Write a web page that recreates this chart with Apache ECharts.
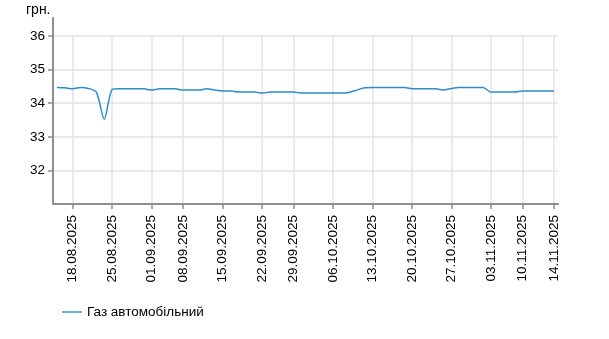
<!DOCTYPE html>
<html>
<head>
<meta charset="utf-8">
<script src="https://cdn.jsdelivr.net/npm/echarts@6/dist/echarts.min.js"></script>
<style>html,body{margin:0;padding:0;background:#fff}#c{width:609px;height:339px}</style>
</head>
<body>
<div id="c"></div>
<script>
const categories = [
  '14.08.2025','15.08.2025',
  '18.08.2025','19.08.2025','20.08.2025','21.08.2025','22.08.2025',
  '25.08.2025','26.08.2025','27.08.2025','28.08.2025','29.08.2025',
  '01.09.2025','02.09.2025','03.09.2025','04.09.2025',
  '08.09.2025','09.09.2025','10.09.2025','11.09.2025','12.09.2025',
  '15.09.2025','16.09.2025','17.09.2025','18.09.2025','19.09.2025',
  '22.09.2025','23.09.2025','24.09.2025','25.09.2025',
  '29.09.2025','30.09.2025','01.10.2025','02.10.2025','03.10.2025',
  '06.10.2025','07.10.2025','08.10.2025','09.10.2025','10.10.2025',
  '13.10.2025','14.10.2025','15.10.2025','16.10.2025','17.10.2025',
  '20.10.2025','21.10.2025','22.10.2025','23.10.2025','24.10.2025',
  '27.10.2025','28.10.2025','29.10.2025','30.10.2025','31.10.2025',
  '03.11.2025','04.11.2025','05.11.2025','06.11.2025',
  '10.11.2025','11.11.2025','12.11.2025','13.11.2025','14.11.2025'
];
const gasValues = [
  34.47,34.46,
  34.43,34.47,34.44,34.33,33.52,
  34.41,34.43,34.43,34.43,34.43,
  34.39,34.43,34.43,34.43,
  34.39,34.39,34.39,34.43,34.39,
  34.36,34.36,34.33,34.33,34.33,
  34.30,34.33,34.33,34.33,
  34.33,34.30,34.30,34.30,34.30,
  34.30,34.30,34.32,34.39,34.46,
  34.47,34.47,34.47,34.47,34.47,
  34.43,34.43,34.43,34.43,34.39,
  34.44,34.47,34.47,34.47,34.47,
  34.33,34.33,34.33,34.33,
  34.36,34.36,34.36,34.36,34.36
];
const tickLabels = [
  '18.08.2025','25.08.2025','01.09.2025','08.09.2025','15.09.2025','22.09.2025','29.09.2025',
  '06.10.2025','13.10.2025','20.10.2025','27.10.2025','03.11.2025','10.11.2025','14.11.2025'
];
const yTicks = [31, 32, 33, 34, 35, 36];
const seriesName = 'Газ автомобільний';
const unitName = 'грн.';

const FONT = 'Arial, "Liberation Sans", sans-serif';
const showTick = (idx, val) => tickLabels.indexOf(categories[idx]) >= 0;

const chart = echarts.init(document.getElementById('c'), null, {renderer: 'canvas'});
chart.setOption({
  animation: false,
  backgroundColor: '#fff',
  title: {
    text: unitName, left: 26, top: 3, padding: 0,
    textStyle: {fontFamily: FONT, fontSize: 14, fontWeight: 'normal', color: '#000'}
  },
  legend: {
    left: 57, top: 300,
    icon: 'rect', itemWidth: 20, itemHeight: 1.5, itemGap: 10,
    textStyle: {fontFamily: FONT, fontSize: 13.5, color: '#000'},
    data: [seriesName]
  },
  grid: [
    {left: 53, right: 51, top: 36, bottom: 135, containLabel: false},
    {left: 53, width: 1, top: 18, bottom: 135, containLabel: false}
  ],
  xAxis: [{
    type: 'category',
    data: categories,
    boundaryGap: true,
    axisLine: {show: true, lineStyle: {color: '#8f8f8f', width: 2}},
    axisTick: {show: true, interval: showTick, alignWithLabel: true, length: 5, lineStyle: {color: '#8f8f8f', width: 1.5}},
    axisLabel: {show: true, interval: showTick, rotate: 90, margin: 11, fontFamily: FONT, fontSize: 13.5, color: '#000'},
    splitLine: {show: true, interval: showTick, alignWithLabel: true, lineStyle: {color: '#e3e3e3', width: 1.5}}
  }, {
    type: 'category', gridIndex: 1, data: ['a'], show: false
  }],
  yAxis: [{
    type: 'value',
    min: yTicks[0], max: yTicks[yTicks.length - 1], interval: 1,
    axisLine: {show: true, lineStyle: {color: '#8f8f8f', width: 2}},
    axisTick: {show: true, length: 5, lineStyle: {color: '#8f8f8f', width: 1.5}},
    axisLabel: {show: true, showMinLabel: false, margin: 8, fontFamily: FONT, fontSize: 13.5, color: '#000'},
    splitLine: {show: true, lineStyle: {color: '#e3e3e3', width: 1.5}}
  }, {
    type: 'value', gridIndex: 1, min: 0, max: 1,
    axisLine: {show: true, lineStyle: {color: '#8f8f8f', width: 2}},
    axisTick: {show: false}, axisLabel: {show: false}, splitLine: {show: false}
  }],
  series: [{
    name: seriesName,
    type: 'line',
    data: gasValues,
    symbol: 'none',
    smooth: 0.25,
    lineStyle: {color: '#2b8dcc', width: 1.5},
    itemStyle: {color: '#3d9bd6'}
  }]
});
</script>
</body>
</html>
